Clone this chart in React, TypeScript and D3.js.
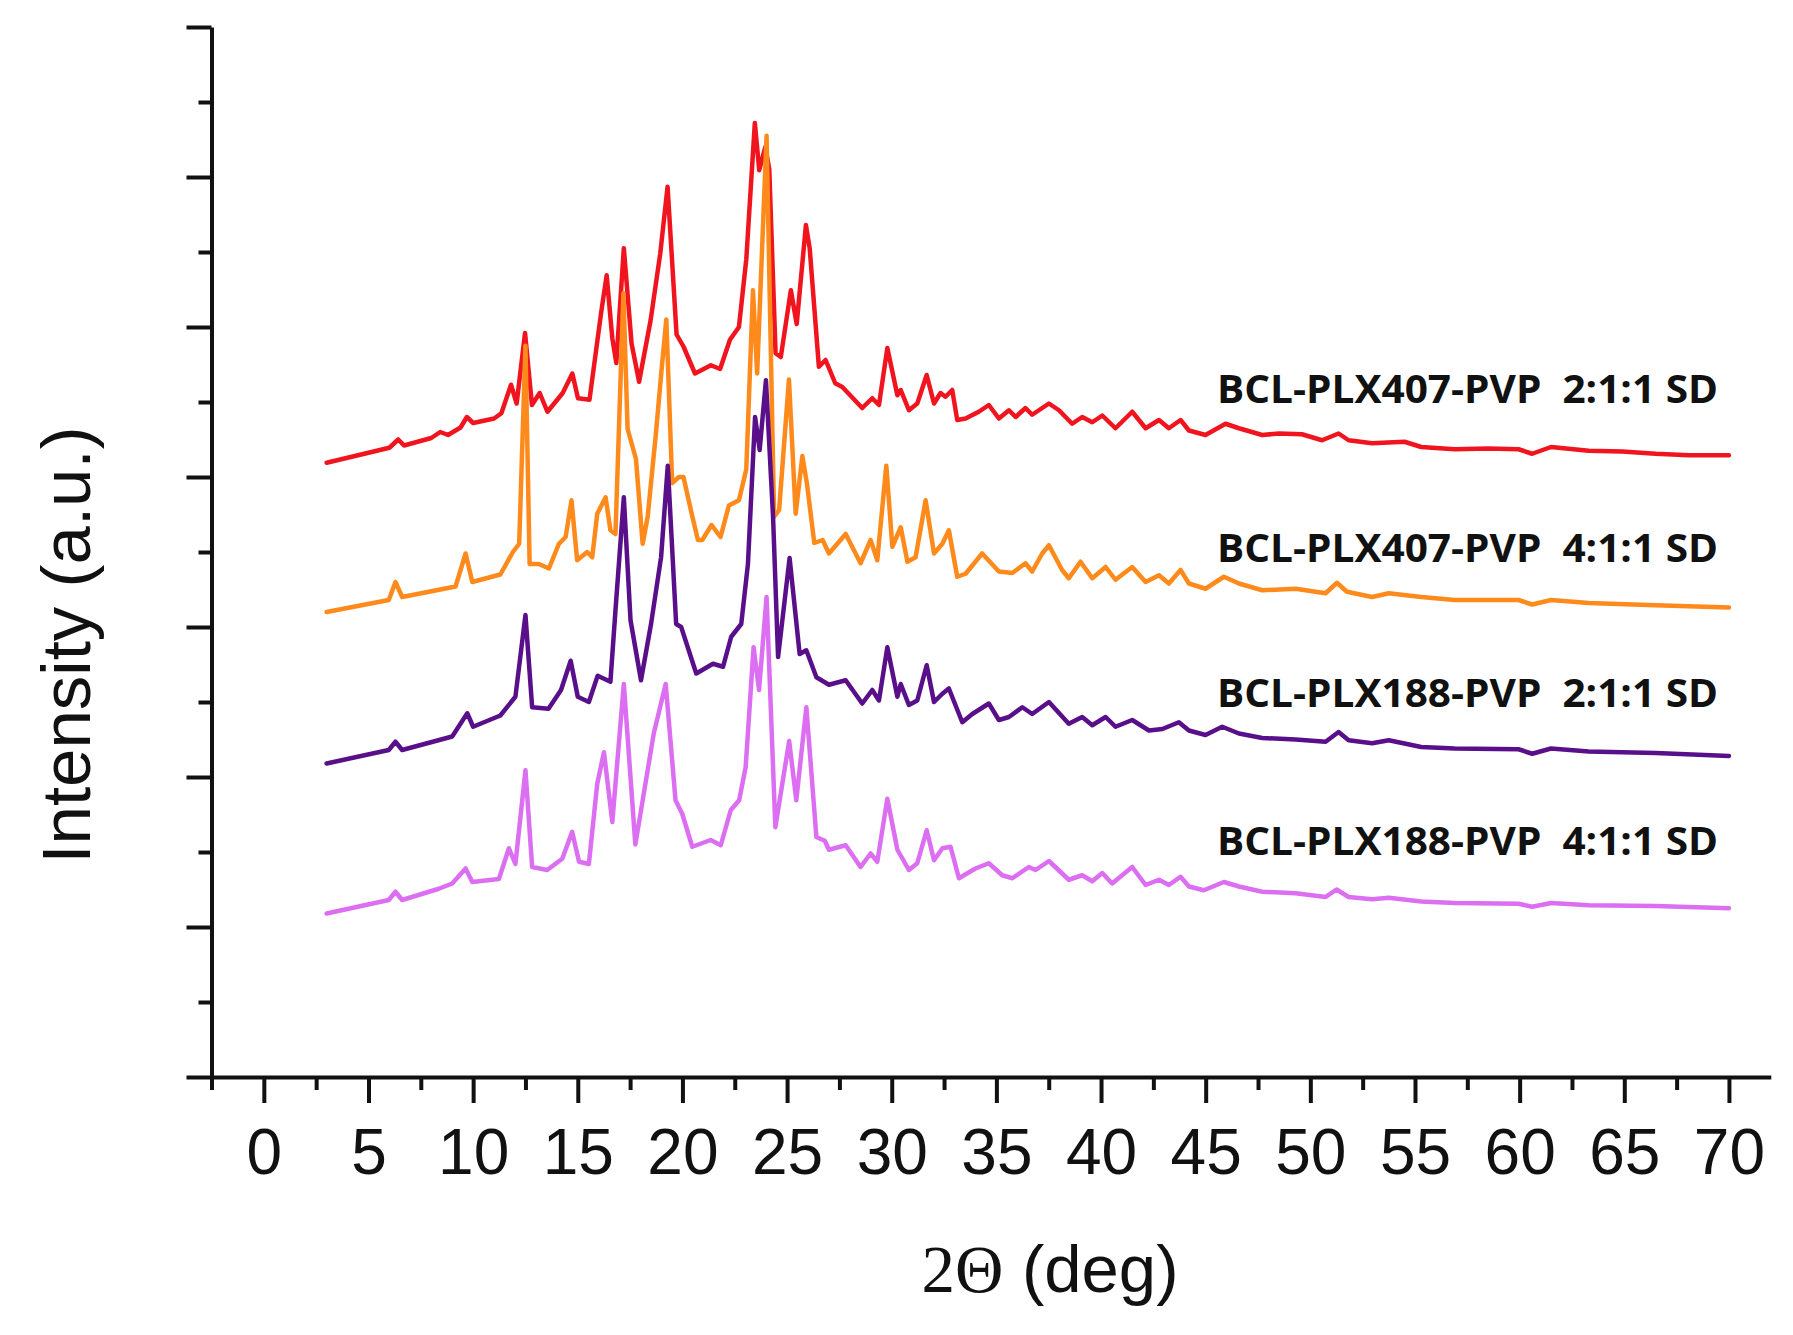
import { useEffect, useRef } from "react";
import { axisBottom, axisLeft, line, scaleLinear, select, range } from "d3";

type Pt = [number, number];

// 2theta (deg), intensity (a.u., stacked offsets)
const plx407_211: Pt[] = [
  [3.0, 8.19], [4.5, 8.29], [6.0, 8.39], [6.42, 8.5], [6.7, 8.42], [8.0, 8.52],
  [8.43, 8.6], [8.8, 8.56], [9.4, 8.66], [9.7, 8.8], [10.0, 8.72], [11.0, 8.78],
  [11.35, 8.85], [11.81, 9.23], [12.08, 8.98], [12.48, 9.92], [12.81, 8.96],
  [13.18, 9.12], [13.55, 8.87], [14.28, 9.12], [14.74, 9.38], [15.01, 9.05],
  [15.56, 9.03], [16.11, 10.18], [16.38, 10.69], [16.65, 9.85], [16.84, 9.52],
  [17.2, 11.05], [17.57, 9.78], [17.93, 9.27], [18.48, 10.09], [18.94, 10.98],
  [19.29, 11.87], [19.72, 9.9], [20.05, 9.74], [20.6, 9.38], [21.36, 9.49],
  [21.8, 9.44], [22.27, 9.83], [22.7, 10.0], [23.05, 10.9], [23.46, 12.72],
  [23.67, 12.09], [23.96, 12.4], [24.15, 12.1], [24.45, 9.65], [24.7, 9.6],
  [25.18, 10.49], [25.46, 10.04], [25.9, 11.36], [26.08, 11.05], [26.52, 9.47],
  [26.84, 9.56], [27.3, 9.25], [27.64, 9.2], [28.59, 8.92], [29.07, 9.05],
  [29.39, 8.96], [29.79, 9.72], [30.27, 9.09], [30.43, 9.16], [30.82, 8.89],
  [31.22, 8.98], [31.67, 9.36], [32.02, 8.98], [32.33, 9.12], [32.57, 9.07],
  [32.89, 9.16], [33.13, 8.76], [33.53, 8.78], [34.16, 8.87], [34.64, 8.96],
  [35.12, 8.78], [35.6, 8.89], [35.92, 8.8], [36.39, 8.92], [36.71, 8.83],
  [37.51, 8.98], [37.99, 8.89], [38.62, 8.71], [39.1, 8.8], [39.58, 8.73],
  [40.06, 8.82], [40.69, 8.65], [41.49, 8.87], [42.13, 8.65], [42.77, 8.76],
  [43.24, 8.65], [43.8, 8.76], [44.2, 8.62], [44.99, 8.56], [45.95, 8.71],
  [46.59, 8.65], [47.7, 8.56], [48.5, 8.58], [49.6, 8.57], [50.56, 8.49],
  [51.35, 8.58], [51.83, 8.49], [52.95, 8.45], [54.5, 8.47], [55.3, 8.4],
  [56.9, 8.37], [58.5, 8.38], [59.95, 8.37], [60.6, 8.31], [61.5, 8.4],
  [63.3, 8.35], [64.9, 8.34], [66.5, 8.31], [68.1, 8.29], [70.0, 8.29],
];

const plx407_411: Pt[] = [
  [3.0, 6.2], [5.97, 6.36], [6.29, 6.6], [6.61, 6.4], [9.16, 6.54], [9.64, 6.98],
  [9.96, 6.6], [11.3, 6.7], [11.9, 7.0], [12.2, 7.11], [12.5, 9.75], [12.7, 6.84],
  [13.14, 6.84], [13.62, 6.78], [14.1, 7.11], [14.42, 7.2], [14.7, 7.69],
  [14.97, 6.89], [15.45, 7.0], [15.69, 6.93], [15.93, 7.51], [16.33, 7.73],
  [16.56, 7.29], [16.8, 7.24], [17.18, 10.45], [17.38, 8.64], [17.78, 8.24],
  [18.1, 7.11], [18.34, 7.47], [18.74, 8.6], [19.0, 9.42], [19.23, 10.1],
  [19.51, 7.92], [19.83, 8.0], [20.05, 8.0], [20.45, 7.5], [20.74, 7.16],
  [20.95, 7.16], [21.39, 7.36], [21.82, 7.2], [22.22, 7.62], [22.7, 7.69],
  [23.05, 8.1], [23.37, 10.49], [23.57, 9.38], [24.02, 12.55], [24.38, 7.47],
  [24.62, 7.56], [25.09, 9.3], [25.41, 7.51], [25.73, 8.28], [25.95, 7.91],
  [26.3, 7.12], [26.7, 7.16], [27.0, 6.98], [27.8, 7.24], [28.51, 6.85],
  [28.99, 7.16], [29.31, 6.89], [29.74, 8.15], [30.03, 7.07], [30.43, 7.33],
  [30.75, 6.87], [31.14, 6.93], [31.62, 7.69], [32.02, 6.98], [32.42, 7.11],
  [32.73, 7.29], [33.13, 6.67], [33.53, 6.71], [34.32, 6.98], [35.12, 6.74],
  [35.76, 6.72], [36.39, 6.85], [36.71, 6.74], [37.19, 6.98], [37.51, 7.09],
  [38.14, 6.76], [38.46, 6.65], [39.02, 6.87], [39.58, 6.65], [40.22, 6.8],
  [40.69, 6.63], [41.49, 6.8], [42.13, 6.6], [42.77, 6.69], [43.24, 6.58],
  [43.8, 6.76], [44.2, 6.58], [44.99, 6.51], [45.87, 6.67], [46.59, 6.58],
  [47.7, 6.49], [49.3, 6.51], [50.73, 6.45], [51.27, 6.59], [51.75, 6.47],
  [52.95, 6.4], [53.75, 6.45], [55.3, 6.4], [56.9, 6.36], [59.95, 6.36],
  [60.6, 6.3], [61.5, 6.36], [63.3, 6.32], [66.5, 6.29], [70.0, 6.26],
];

const plx188_211: Pt[] = [
  [3.0, 4.18], [5.97, 4.36], [6.29, 4.47], [6.61, 4.36], [9.0, 4.54], [9.72, 4.85],
  [10.0, 4.67], [11.3, 4.82], [12.02, 5.07], [12.5, 6.16], [12.82, 4.93],
  [13.6, 4.91], [14.2, 5.16], [14.66, 5.55], [15.0, 5.07], [15.53, 5.0],
  [15.95, 5.35], [16.56, 5.27], [16.8, 6.22], [17.2, 7.73], [17.52, 6.09],
  [18.02, 5.29], [18.5, 6.04], [18.98, 6.93], [19.3, 8.15], [19.7, 6.04],
  [19.94, 6.0], [20.66, 5.38], [21.46, 5.51], [21.94, 5.47], [22.33, 5.87],
  [22.81, 6.04], [23.13, 6.84], [23.47, 8.8], [23.69, 8.36], [23.99, 9.29],
  [24.33, 7.47], [24.57, 5.6], [25.12, 6.92], [25.6, 5.64], [25.92, 5.69],
  [26.4, 5.33], [27.0, 5.23], [27.8, 5.29], [28.59, 4.98], [29.07, 5.16],
  [29.39, 5.02], [29.79, 5.73], [30.27, 5.07], [30.43, 5.24], [30.82, 4.96],
  [31.22, 5.02], [31.67, 5.49], [32.02, 5.0], [32.42, 5.11], [32.73, 5.18],
  [33.37, 4.73], [33.85, 4.84], [34.64, 4.98], [35.12, 4.76], [35.6, 4.8],
  [36.24, 4.93], [36.71, 4.84], [37.51, 5.0], [38.46, 4.71], [39.1, 4.8],
  [39.58, 4.69], [40.22, 4.8], [40.69, 4.67], [41.49, 4.76], [42.29, 4.62],
  [42.93, 4.64], [43.72, 4.73], [44.2, 4.62], [44.99, 4.56], [45.79, 4.67],
  [46.59, 4.58], [47.7, 4.52], [49.3, 4.5], [50.73, 4.47], [51.35, 4.6],
  [51.83, 4.49], [52.95, 4.45], [53.75, 4.49], [55.3, 4.4], [56.9, 4.38],
  [59.95, 4.37], [60.6, 4.31], [61.5, 4.38], [63.3, 4.34], [66.5, 4.32],
  [70.0, 4.28],
];

const plx188_411: Pt[] = [
  [3.0, 2.18], [5.97, 2.36], [6.29, 2.47], [6.61, 2.36], [8.36, 2.51], [9.0, 2.58],
  [9.64, 2.78], [9.96, 2.6], [11.23, 2.64], [11.71, 3.05], [12.02, 2.84],
  [12.5, 4.09], [12.82, 2.8], [13.54, 2.76], [14.26, 2.91], [14.73, 3.27],
  [15.06, 2.87], [15.53, 2.84], [15.93, 3.91], [16.25, 4.33], [16.65, 3.4],
  [17.2, 5.24], [17.75, 3.1], [18.63, 4.58], [19.2, 5.24], [19.67, 3.69],
  [19.99, 3.51], [20.47, 3.07], [21.35, 3.16], [21.83, 3.09], [22.31, 3.56],
  [22.71, 3.69], [23.02, 4.13], [23.4, 5.73], [23.66, 5.16], [24.02, 6.4],
  [24.44, 3.33], [25.1, 4.48], [25.44, 3.69], [25.92, 4.93], [26.4, 3.2],
  [26.8, 3.15], [27.0, 3.03], [27.8, 3.09], [28.51, 2.8], [28.99, 2.98],
  [29.31, 2.87], [29.79, 3.71], [30.27, 3.03], [30.82, 2.76], [31.22, 2.85],
  [31.67, 3.29], [32.02, 2.89], [32.42, 3.05], [32.81, 3.07], [33.21, 2.65],
  [34.0, 2.78], [34.64, 2.85], [35.28, 2.69], [35.76, 2.65], [36.55, 2.8],
  [36.87, 2.76], [37.51, 2.88], [38.46, 2.63], [39.1, 2.69], [39.58, 2.61],
  [40.06, 2.72], [40.53, 2.58], [41.49, 2.8], [42.13, 2.56], [42.77, 2.63],
  [43.24, 2.56], [43.8, 2.67], [44.2, 2.54], [44.91, 2.49], [45.87, 2.6],
  [46.59, 2.54], [47.7, 2.47], [49.3, 2.45], [50.73, 2.4], [51.25, 2.5],
  [51.83, 2.4], [52.95, 2.37], [53.75, 2.39], [55.3, 2.34], [56.9, 2.32],
  [59.95, 2.31], [60.6, 2.27], [61.5, 2.32], [63.3, 2.29], [66.5, 2.28],
  [70.0, 2.25],
];

const seriesData = [plx407_211, plx407_411, plx188_211, plx188_411];
const seriesLabels = [
  "BCL-PLX407-PVP  2:1:1 SD",
  "BCL-PLX407-PVP  4:1:1 SD",
  "BCL-PLX188-PVP  2:1:1 SD",
  "BCL-PLX188-PVP  4:1:1 SD",
];
const seriesColors = ["#f0141e", "#ff8a1c", "#5a0f8a", "#dc6ef2"];
// label baselines, in intensity units
const labelLevels = [8.99, 6.87, 4.93, 2.96];

const xMajor = range(0, 71, 5);
const xMinor = range(-2.5, 70, 5);
const yMajor = range(0, 15, 2);
const yMinor = range(1, 14, 2);

const W = 1793;
const H = 1335;
const plot = { left: 211.5, right: 1770.8, top: 27, bottom: 1077 };
const axisFont = "'Liberation Sans', Arial, sans-serif";

export default function App() {
  const xMajRef = useRef<SVGGElement>(null);
  const xMinRef = useRef<SVGGElement>(null);
  const yMajRef = useRef<SVGGElement>(null);
  const yMinRef = useRef<SVGGElement>(null);

  const x = scaleLinear().domain([-2.5, 72]).range([plot.left, plot.right]);
  const y = scaleLinear().domain([0, 14]).range([plot.bottom, plot.top]);

  useEffect(() => {
    if (xMajRef.current) {
      const g = select(xMajRef.current);
      g.call(
        axisBottom(x)
          .tickValues(xMajor)
          .tickSize(26)
          .tickSizeOuter(0)
          .tickPadding(26)
          .tickFormat((d) => String(d))
      );
      g.select(".domain").attr("stroke-width", 4).attr("stroke", "#111");
      g.selectAll(".tick line").attr("stroke-width", 4).attr("stroke", "#111");
      g.selectAll(".tick text")
        .attr("fill", "#111")
        .attr("transform", "scale(0.94, 1.06)")
        .style("font-family", axisFont)
        .style("font-size", "64px");
      // keep labels centred on their ticks after the horizontal squeeze
      g.selectAll<SVGGElement, number>(".tick").each(function () {
        const t = select(this).select("text");
        t.attr("transform", null).attr("textLength", null);
      });
    }
    if (xMinRef.current) {
      const g = select(xMinRef.current);
      g.call(axisBottom(x).tickValues(xMinor).tickSize(13).tickFormat(() => ""));
      g.select(".domain").remove();
      g.selectAll(".tick line").attr("stroke-width", 4).attr("stroke", "#111");
    }
    if (yMajRef.current) {
      const g = select(yMajRef.current);
      g.call(axisLeft(y).tickValues(yMajor).tickSize(25).tickSizeOuter(0).tickFormat(() => ""));
      g.select(".domain").attr("stroke-width", 4).attr("stroke", "#111");
      g.selectAll(".tick line").attr("stroke-width", 4).attr("stroke", "#111");
    }
    if (yMinRef.current) {
      const g = select(yMinRef.current);
      g.call(axisLeft(y).tickValues(yMinor).tickSize(13).tickFormat(() => ""));
      g.select(".domain").remove();
      g.selectAll(".tick line").attr("stroke-width", 4).attr("stroke", "#111");
    }
  }, []);

  const path = line<Pt>()
    .x((d) => x(d[0]))
    .y((d) => y(d[1]));

  return (
    <svg
      width={W}
      height={H}
      style={{ position: "absolute", left: 0, top: 0, background: "#fff" }}
    >
      <rect width={W} height={H} fill="#fff" />
      {seriesData.map((d, i) => (
        <path
          key={seriesLabels[i]}
          d={path(d) ?? ""}
          fill="none"
          stroke={seriesColors[i]}
          strokeWidth={4.5}
          strokeLinejoin="round"
          strokeLinecap="round"
        />
      ))}
      <g ref={xMinRef} transform={`translate(0, ${plot.bottom})`} />
      <g ref={xMajRef} transform={`translate(0, ${plot.bottom})`} />
      <g ref={yMinRef} transform={`translate(${plot.left}, 0)`} />
      <g ref={yMajRef} transform={`translate(${plot.left}, 0)`} />
      {seriesLabels.map((label, i) => (
        <text
          key={label}
          x={1718}
          y={y(labelLevels[i])}
          textAnchor="end"
          fontFamily="'Open Sans', 'Noto Sans', sans-serif"
          fontWeight={700}
          fontSize={39}
          fill="#111"
          textLength={501}
          lengthAdjust="spacingAndGlyphs"
          style={{ whiteSpace: "pre" }}
        >
          {label}
        </text>
      ))}
      <text
        transform={`translate(90, 645) rotate(-90)`}
        textAnchor="middle"
        fontFamily={axisFont}
        fontSize={69}
        fill="#111"
      >
        Intensity (a.u.)
      </text>
      <text x={1050} y={1292} textAnchor="middle" fontSize={67} fill="#111">
        <tspan fontFamily="'Liberation Serif', 'Times New Roman', serif">2Θ</tspan>
        <tspan fontFamily={axisFont}> (deg)</tspan>
      </text>
    </svg>
  );
}
